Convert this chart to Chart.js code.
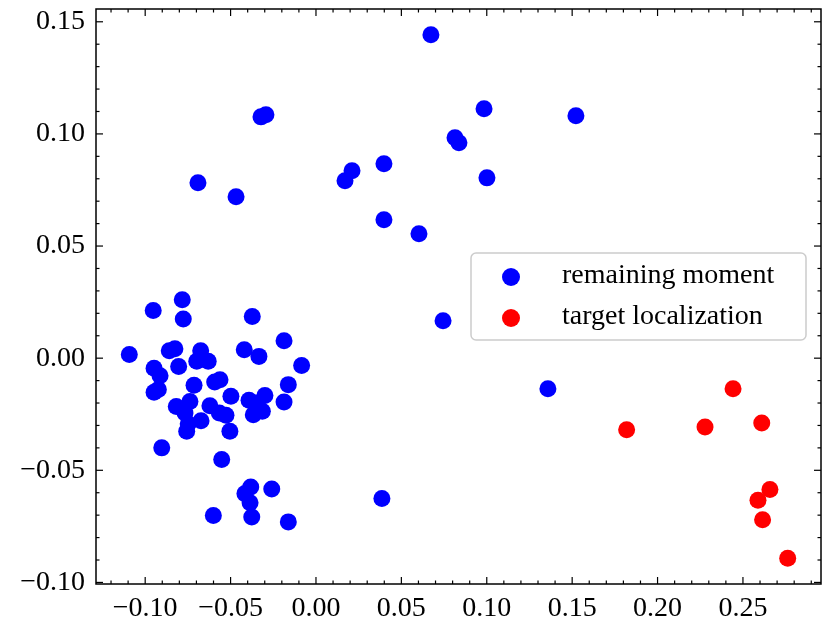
<!DOCTYPE html>
<html>
<head>
<meta charset="utf-8">
<script src="https://cdn.jsdelivr.net/npm/chart.js@4"></script>
<style>
  html, body { margin: 0; padding: 0; background: #fff; }
  #wrap { width: 830px; height: 631px; }
</style>
</head>
<body>
<div id="wrap"><canvas id="myChart" width="830" height="631"></canvas></div>
<script>
// series values
const blueX = [0.0673, 0.1522, 0.0984, -0.0322, -0.0293, -0.0691, -0.0468, 0.0814, 0.0837, 0.0398,
    0.0211, 0.0170, 0.1001, 0.0398, 0.0603, 0.0744, 0.1358, 0.0386,
    -0.1093, -0.0953, -0.0783, -0.0777, -0.0373, -0.0187, -0.0084, -0.0859, -0.0826, -0.0804,
    -0.0675, -0.0698, -0.0631, -0.0420, -0.0334, -0.0948, -0.0913, -0.0948, -0.0923, -0.0714,
    -0.0593, -0.0562, -0.0498, -0.0818, -0.0738, -0.0767, -0.0748, -0.0757, -0.0673, -0.0621,
    -0.0566, -0.0527, -0.0504, -0.0392, -0.0347, -0.0299, -0.0367, -0.0314, -0.0162, -0.0187,
    -0.0903, -0.0552, -0.0416, -0.0382, -0.0386, -0.0259, -0.0601, -0.0376, -0.0162]
const blueY = [0.1442, 0.1081, 0.1112, 0.1076, 0.1085, 0.0782, 0.0720, 0.0983, 0.0961, 0.0867,
    0.0836, 0.0791, 0.0804, 0.0617, 0.0555, 0.0167, -0.0136, -0.0626,
    0.0016, 0.0213, 0.0261, 0.0175, 0.0186, 0.0078, -0.0033, 0.0033, 0.0042, -0.0037,
    0.0033, -0.0014, -0.0014, 0.0038, 0.0008, -0.0045, -0.0078, -0.0152, -0.0140, -0.0121,
    -0.0106, -0.0096, -0.0170, -0.0215, -0.0193, -0.0244, -0.0292, -0.0326, -0.0279, -0.0212,
    -0.0244, -0.0255, -0.0326, -0.0188, -0.0200, -0.0166, -0.0252, -0.0237, -0.0118, -0.0195,
    -0.0400, -0.0452, -0.0604, -0.0574, -0.0645, -0.0583, -0.0702, -0.0708, -0.0730]
const redX = [0.1819, 0.2278, 0.2442, 0.2610, 0.2658, 0.2588, 0.2615, 0.2762]
const redY = [-0.0319, -0.0307, -0.0136, -0.0289, -0.0586, -0.0634, -0.0720, -0.0892]

const seriesNames = ["remaining moment", "target localization"]

// tick labels
const xTickValues = [-0.10, -0.05, 0.00, 0.05, 0.10, 0.15, 0.20, 0.25]
const yTickValues = [-0.10, -0.05, 0.00, 0.05, 0.10, 0.15]

const FONT = "'Liberation Serif', 'Times New Roman', serif"

const toPoints = (xs, ys) => xs.map((x, i) => ({x: x, y: ys[i]}))

// matplotlib style minus sign
const fmt = (v) => {
    let s = Number(v).toFixed(2)
    if (s === "-0.00") s = "0.00"
    return s.replace("-", "\u2212")
}

// box + inward ticks on all four sides (like the scienceplots style)
const frameTicks = {
    id: 'frameTicks',
    afterDatasetsDraw(chart) {
        const ctx = chart.ctx
        const a = chart.chartArea
        const xs = chart.scales.x, ys = chart.scales.y
        ctx.save()
        ctx.strokeStyle = '#000'
        ctx.lineWidth = 1.2
        const tick = (x1, y1, x2, y2) => {
            ctx.beginPath(); ctx.moveTo(x1, y1); ctx.lineTo(x2, y2); ctx.stroke()
        }
        for (let i = -13; i <= 29; i++) {
            const v = i / 100
            if (v < xs.min || v > xs.max) continue
            const px = xs.getPixelForValue(v)
            const len = (i % 5 === 0) ? 7 : 3.5
            tick(px, a.bottom, px, a.bottom - len)
            tick(px, a.top, px, a.top + len)
        }
        for (let i = -10; i <= 15; i++) {
            const v = i / 100
            if (v < ys.min || v > ys.max) continue
            const py = ys.getPixelForValue(v)
            const len = (i % 5 === 0) ? 7 : 3.5
            tick(a.left, py, a.left + len, py)
            tick(a.right, py, a.right - len, py)
        }
        ctx.lineWidth = 1.5
        ctx.strokeRect(a.left, a.top, a.right - a.left, a.bottom - a.top)
        ctx.restore()
    }
}

// legend box inside the plot, drawn from the datasets
const boxLegend = {
    id: 'boxLegend',
    afterDatasetsDraw(chart) {
        const ctx = chart.ctx
        const left = 471, top = 253, w = 335, h = 87
        ctx.save()
        ctx.fillStyle = 'rgba(255,255,255,0.8)'
        ctx.strokeStyle = '#cccccc'
        ctx.lineWidth = 1.5
        ctx.beginPath()
        ctx.roundRect(left, top, w, h, 5)
        ctx.fill()
        ctx.stroke()
        ctx.font = '28px ' + FONT
        ctx.textBaseline = 'middle'
        chart.data.datasets.forEach((ds, i) => {
            const cy = top + 24 + i * 41
            ctx.fillStyle = ds.backgroundColor
            ctx.beginPath()
            ctx.arc(left + 40, cy, 9, 0, Math.PI * 2)
            ctx.fill()
            ctx.fillStyle = '#000'
            ctx.fillText(ds.label, left + 91, cy - 1)
        })
        ctx.restore()
    }
}

const ctx = document.getElementById('myChart').getContext('2d')
const myChart = new Chart(ctx, {
    type: 'scatter',
    data: {
        datasets: [{
            label: seriesNames[0],
            data: toPoints(blueX, blueY),
            backgroundColor: '#0000ff',
            borderWidth: 0,
            pointRadius: 8.5,
            pointHoverRadius: 8.5
        }, {
            label: seriesNames[1],
            data: toPoints(redX, redY),
            backgroundColor: '#ff0000',
            borderWidth: 0,
            pointRadius: 8.5,
            pointHoverRadius: 8.5
        }]
    },
    options: {
        responsive: false,
        animation: false,
        layout: { padding: { top: 9, right: 9, left: 0, bottom: 0 } },
        plugins: {
            legend: { display: false },
            tooltip: { enabled: false }
        },
        scales: {
            x: {
                type: 'linear',
                min: -0.1288,
                max: 0.2957,
                grid: { display: false, drawTicks: false },
                border: { display: false },
                afterBuildTicks: (scale) => { scale.ticks = xTickValues.map(v => ({value: v})) },
                afterFit: (scale) => {
                    scale.height = 47
                    scale.paddingLeft = 0
                    scale.paddingRight = 0
                },
                ticks: {
                    callback: (v) => fmt(v),
                    font: { family: FONT, size: 28 },
                    color: '#000',
                    padding: 8,
                    maxRotation: 0,
                    autoSkip: false
                }
            },
            y: {
                type: 'linear',
                min: -0.1007,
                max: 0.1557,
                grid: { display: false, drawTicks: false },
                border: { display: false },
                afterBuildTicks: (scale) => { scale.ticks = yTickValues.map(v => ({value: v})) },
                afterFit: (scale) => {
                    scale.width = 96
                    scale.paddingTop = 0
                    scale.paddingBottom = 0
                },
                ticks: {
                    callback: (v) => fmt(v),
                    font: { family: FONT, size: 28 },
                    color: '#000',
                    padding: 11,
                    autoSkip: false
                }
            }
        }
    },
    plugins: [frameTicks, boxLegend]
});
</script>
</body>
</html>
